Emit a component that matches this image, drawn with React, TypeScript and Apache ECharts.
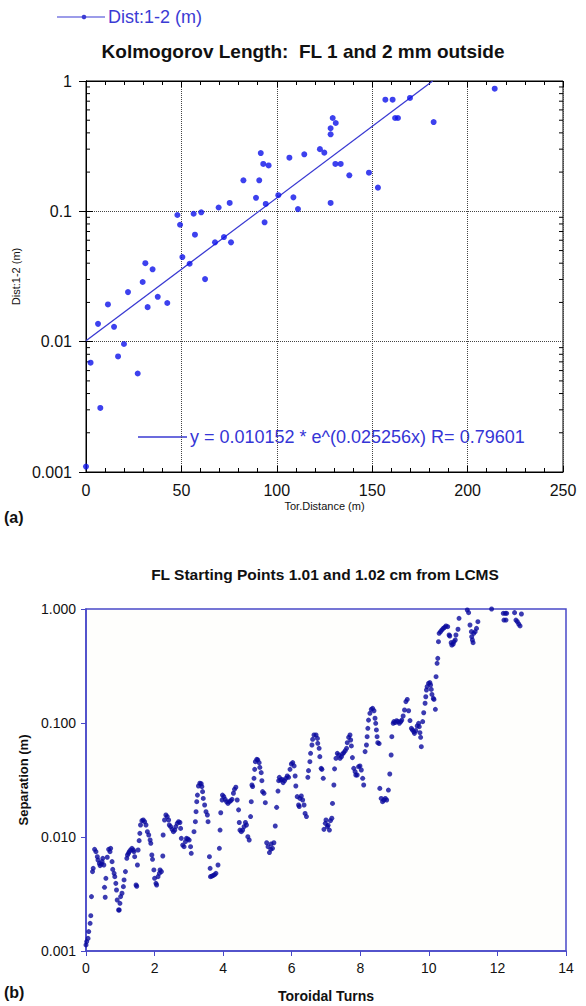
import React, { useEffect, useRef } from "react";
import * as echarts from "echarts";

const SANS = '"Liberation Sans", Arial, Helvetica, sans-serif';

// ---------- Chart (a) ----------
const titleA = "Kolmogorov Length:  FL 1 and 2 mm outside";
const seriesNameA = "Dist:1-2 (m)";
const xNameA = "Tor.Distance (m)";
const yTickLabelsA = ["0.001", "0.01", "0.1", "1"];
const logMinorTicks = [
  0.002, 0.003, 0.004, 0.005, 0.006, 0.007, 0.008, 0.009,
  0.02, 0.03, 0.04, 0.05, 0.06, 0.07, 0.08, 0.09,
  0.2, 0.3, 0.4, 0.5, 0.6, 0.7, 0.8, 0.9,
];
const kolmogorovPoints: [number, number][] = [
  [0, 0.0011], [2.4, 0.0069], [6.3, 0.0137], [7.5, 0.0031], [11.5, 0.0193],
  [14.7, 0.013], [16.8, 0.0077], [19.9, 0.0096], [22, 0.024], [27.1, 0.0057],
  [29.7, 0.0287], [31.1, 0.04], [32.3, 0.0184], [34.9, 0.0359], [37.6, 0.0221],
  [42.6, 0.0198], [47.9, 0.0937], [49.3, 0.0789], [50.5, 0.0446], [54.3, 0.0396],
  [56.4, 0.0958], [57.1, 0.0662], [60.4, 0.0983], [62.4, 0.0302], [67.6, 0.0578],
  [69.5, 0.107], [72.3, 0.0635], [75.3, 0.116], [76, 0.0578], [82.5, 0.173],
  [89.1, 0.127], [90.8, 0.173], [91.6, 0.28], [92.9, 0.231], [93.6, 0.0824],
  [94.2, 0.114], [95.7, 0.225], [100.8, 0.133], [106.6, 0.258], [108.7, 0.128],
  [111.1, 0.104], [114.4, 0.274], [122.6, 0.3], [124.9, 0.282], [128.2, 0.434],
  [128.2, 0.39], [128.2, 0.116], [129.3, 0.52], [130.7, 0.231], [130.9, 0.476],
  [133.5, 0.231], [138, 0.189], [148.3, 0.198], [153, 0.152], [156.9, 0.719],
  [160.7, 0.719], [162, 0.52], [163.5, 0.52], [169.8, 0.741], [182.2, 0.484],
  [214.2, 0.873],
];
const fitA = 0.010152;
const fitB = 0.025256;
const fitR = 0.79601;
const fitXEnd = 181.7;

// ---------- Chart (b) ----------
const titleB = "FL Starting Points 1.01 and 1.02 cm from LCMS";
const xNameB = "Toroidal Turns";
const yNameB = "Separation (m)";
const yTickLabelsB = ["0.001", "0.010", "0.100", "1.000"];
const separationPoints: [number, number][] = [
  [0.0, 0.00113], [0.02, 0.00121], [0.06, 0.00129], [0.08, 0.00148], [0.12, 0.00175],
  [0.14, 0.00204], [0.16, 0.003], [0.19, 0.00497], [0.21, 0.00531], [0.25, 0.0078],
  [0.29, 0.00743], [0.33, 0.00672], [0.35, 0.00628], [0.39, 0.00587], [0.41, 0.00561],
  [0.45, 0.0058], [0.47, 0.00608], [0.49, 0.0065], [0.52, 0.00568], [0.54, 0.00362],
  [0.56, 0.00296], [0.58, 0.00434], [0.62, 0.00664], [0.66, 0.0078], [0.7, 0.00743],
  [0.72, 0.00796], [0.76, 0.00608], [0.78, 0.0052], [0.82, 0.0048], [0.84, 0.00449],
  [0.87, 0.00392], [0.89, 0.00343], [0.91, 0.0028], [0.95, 0.00229], [0.97, 0.00229],
  [0.99, 0.00262], [1.01, 0.003], [1.05, 0.00321], [1.09, 0.00367], [1.11, 0.0042],
  [1.15, 0.00497], [1.19, 0.0065], [1.21, 0.00695], [1.24, 0.00719], [1.26, 0.00743],
  [1.3, 0.00769], [1.34, 0.00796], [1.38, 0.00769], [1.4, 0.00743], [1.42, 0.00672],
  [1.46, 0.00379], [1.48, 0.0037], [1.5, 0.00568], [1.52, 0.00769], [1.55, 0.00929],
  [1.57, 0.01076], [1.59, 0.01274], [1.63, 0.0139], [1.67, 0.0141], [1.71, 0.01363],
  [1.75, 0.01274], [1.79, 0.01113], [1.83, 0.01042], [1.87, 0.00941], [1.89, 0.0088],
  [1.92, 0.00695], [1.94, 0.00637], [1.98, 0.00514], [2.0, 0.00434], [2.04, 0.00392],
  [2.06, 0.00379], [2.1, 0.00449], [2.14, 0.0048], [2.16, 0.00514], [2.2, 0.00497],
  [2.24, 0.00681], [2.25, 0.01042], [2.29, 0.0141], [2.33, 0.0156], [2.37, 0.0151],
  [2.41, 0.0141], [2.43, 0.01274], [2.47, 0.01233], [2.51, 0.01167], [2.55, 0.01113],
  [2.59, 0.0115], [2.62, 0.01233], [2.66, 0.01318], [2.7, 0.01363], [2.74, 0.0134],
  [2.76, 0.0119], [2.78, 0.00973], [2.82, 0.0085], [2.86, 0.00822], [2.9, 0.0091],
  [2.93, 0.00973], [2.97, 0.0096], [3.01, 0.0094], [3.05, 0.00822], [3.07, 0.00719],
  [3.15, 0.01113], [3.19, 0.01363], [3.21, 0.01668], [3.23, 0.0204], [3.25, 0.0233],
  [3.28, 0.028], [3.32, 0.0296], [3.36, 0.0293], [3.38, 0.0277], [3.4, 0.025],
  [3.42, 0.0218], [3.46, 0.0191], [3.5, 0.01668], [3.54, 0.0156], [3.56, 0.01363],
  [3.6, 0.00672], [3.62, 0.00531], [3.63, 0.00449], [3.67, 0.00453], [3.71, 0.0046],
  [3.75, 0.00467], [3.79, 0.0048], [3.85, 0.00568], [3.89, 0.00796], [3.91, 0.0115],
  [3.93, 0.01633], [3.97, 0.0211], [3.98, 0.0233], [4.02, 0.0226], [4.06, 0.0214],
  [4.1, 0.0204], [4.14, 0.0197], [4.18, 0.0204], [4.22, 0.0208], [4.26, 0.0214],
  [4.3, 0.0242], [4.33, 0.0262], [4.37, 0.0273], [4.41, 0.0211], [4.45, 0.0173],
  [4.47, 0.0134], [4.49, 0.0115], [4.53, 0.01113], [4.57, 0.0115], [4.61, 0.01233],
  [4.65, 0.0134], [4.68, 0.01274], [4.72, 0.01007], [4.76, 0.00941], [4.8, 0.0151],
  [4.82, 0.0204], [4.84, 0.0286],
  [4.86, 0.0277], [4.9, 0.0327], [4.92, 0.0392], [4.94, 0.0458], [4.98, 0.048],
  [5.01, 0.0475], [5.05, 0.0449], [5.07, 0.0408], [5.11, 0.0367], [5.13, 0.0312],
  [5.15, 0.025], [5.19, 0.0242], [5.23, 0.02], [5.27, 0.0089], [5.31, 0.00822],
  [5.35, 0.0073], [5.39, 0.0078], [5.4, 0.00868], [5.44, 0.00796], [5.48, 0.0089],
  [5.52, 0.01248], [5.56, 0.0182], [5.6, 0.0253], [5.62, 0.0312], [5.64, 0.0334],
  [5.68, 0.0316], [5.72, 0.032], [5.75, 0.03], [5.79, 0.0312], [5.83, 0.0327],
  [5.87, 0.0343], [5.91, 0.0334], [5.95, 0.0392], [5.99, 0.0437], [6.03, 0.0449],
  [6.07, 0.042], [6.1, 0.0343], [6.12, 0.028], [6.16, 0.0226], [6.2, 0.0191],
  [6.22, 0.0185], [6.24, 0.0218], [6.28, 0.0229], [6.32, 0.0211], [6.36, 0.0191],
  [6.39, 0.0161], [6.43, 0.0151], [6.47, 0.0334], [6.49, 0.0382], [6.53, 0.0458],
  [6.55, 0.0542], [6.59, 0.0641], [6.61, 0.0719], [6.65, 0.0785], [6.71, 0.0785],
  [6.75, 0.0733], [6.76, 0.0663], [6.8, 0.06], [6.82, 0.0507], [6.86, 0.04],
  [6.88, 0.0392], [6.92, 0.0327], [6.94, 0.01167], [6.98, 0.01318], [7.0, 0.0141],
  [7.04, 0.01233], [7.06, 0.0127], [7.1, 0.0115], [7.13, 0.0139], [7.17, 0.0146],
  [7.19, 0.0197], [7.23, 0.0286], [7.25, 0.0396], [7.29, 0.049], [7.33, 0.0542],
  [7.37, 0.0524], [7.41, 0.049], [7.45, 0.0507], [7.48, 0.0535], [7.52, 0.055],
  [7.56, 0.0572], [7.6, 0.06], [7.62, 0.0672], [7.66, 0.0749], [7.7, 0.0785],
  [7.72, 0.0709], [7.74, 0.0629], [7.77, 0.0497], [7.81, 0.04], [7.85, 0.0374],
  [7.87, 0.035], [7.91, 0.035], [7.95, 0.0414], [7.99, 0.042], [8.03, 0.0387],
  [8.07, 0.0327], [8.1, 0.0286], [8.14, 0.0561], [8.18, 0.0641], [8.2, 0.0759],
  [8.22, 0.0898], [8.24, 0.106], [8.28, 0.1216], [8.32, 0.1318], [8.36, 0.1345],
  [8.4, 0.128], [8.43, 0.11], [8.45, 0.0993], [8.47, 0.0869], [8.49, 0.0759],
  [8.51, 0.0672], [8.55, 0.066], [8.57, 0.0267], [8.61, 0.0218], [8.65, 0.0204],
  [8.69, 0.0211], [8.73, 0.0218], [8.77, 0.0211], [8.82, 0.0258], [8.86, 0.0357],
  [8.9, 0.0524], [8.92, 0.0759], [8.96, 0.0993], [8.98, 0.1028], [9.02, 0.101],
  [9.06, 0.1048], [9.1, 0.1028], [9.14, 0.0993], [9.18, 0.1028], [9.21, 0.106],
  [9.25, 0.1152], [9.29, 0.13], [9.33, 0.154], [9.37, 0.161],
  [9.41, 0.128], [9.45, 0.105], [9.49, 0.0898], [9.52, 0.0869], [9.56, 0.0839],
  [9.58, 0.0811], [9.62, 0.0857], [9.66, 0.0941], [9.7, 0.0993], [9.72, 0.0929],
  [9.74, 0.0822], [9.76, 0.0749], [9.78, 0.062], [9.82, 0.1028], [9.85, 0.123],
  [9.89, 0.149], [9.91, 0.17], [9.93, 0.1946], [9.95, 0.2084], [9.99, 0.223],
  [10.03, 0.226], [10.05, 0.2155], [10.07, 0.197], [10.09, 0.178], [10.13, 0.1644],
  [10.15, 0.161], [10.19, 0.1318], [10.21, 0.255], [10.24, 0.334], [10.26, 0.369],
  [10.28, 0.517], [10.3, 0.612], [10.34, 0.633], [10.38, 0.655], [10.42, 0.676],
  [10.46, 0.69], [10.5, 0.71], [10.55, 0.7], [10.59, 0.591], [10.61, 0.58],
  [10.65, 0.507], [10.67, 0.483], [10.71, 0.493], [10.73, 0.517], [10.77, 0.535],
  [10.79, 0.591], [10.85, 0.664], [10.88, 0.828], [11.12, 0.98], [11.16, 0.929],
  [11.2, 0.724], [11.24, 0.633], [11.25, 0.572], [11.27, 0.535], [11.29, 0.507],
  [11.31, 0.612], [11.35, 0.633], [11.39, 0.676], [11.43, 0.774], [11.83, 1.0],
  [12.17, 0.916], [12.19, 0.8], [12.23, 0.916], [12.25, 0.8], [12.27, 0.916],
  [12.5, 0.929], [12.54, 0.8], [12.58, 0.774], [12.62, 0.739], [12.66, 0.71],
  [12.7, 0.904],
];

const LEGEND_BLUE = "#3b3bd4";
const FRAME_BLUE = "#4848c8";

export default function App() {
  const ref = useRef<HTMLDivElement>(null);

  useEffect(() => {
    if (!ref.current) return;
    const chart = echarts.init(ref.current, null, { renderer: "svg" });
    const logIdx = (v: number) => Math.round(Math.log10(v)) + 3;

    const fitLine: [number, number][] = [
      [0, fitA],
      [fitXEnd, fitA * Math.exp(fitB * fitXEnd)],
    ];
    const fitText = `y = ${fitA} * e^(${fitB}x) R= ${fitR}`;

    const option: any = {
      animation: false,
      backgroundColor: "#ffffff",
      grid: [
        { left: 86, top: 81, width: 477, height: 391, show: true, borderColor: "#000", borderWidth: 1, backgroundColor: "#fff" },
        { left: 86, top: 609, width: 480, height: 342, show: true, borderColor: FRAME_BLUE, borderWidth: 1.5, backgroundColor: "#fefefc" },
      ],
      xAxis: [
        {
          gridIndex: 0, type: "value", position: "bottom", min: 0, max: 250, interval: 50,
          axisLine: { show: true, lineStyle: { color: "#000", width: 1 } },
          axisTick: { show: true, inside: true, length: 6, lineStyle: { color: "#000" } },
          minorTick: { show: true, splitNumber: 5, length: 4, lineStyle: { color: "#000" } },
          axisLabel: { fontFamily: SANS, fontSize: 16, color: "#111", margin: 10 },
          splitLine: { show: true, lineStyle: { color: "#444", type: [1, 1], width: 1 } },
          name: xNameA, nameLocation: "middle", nameGap: 28,
          nameTextStyle: { fontFamily: SANS, fontSize: 11, color: "#111" },
        },
        {
          gridIndex: 0, type: "value", position: "top", min: 0, max: 250, interval: 50,
          axisLine: { show: true, lineStyle: { color: "#000", width: 1 } },
          axisTick: { show: true, inside: true, length: 6, lineStyle: { color: "#000" } },
          minorTick: { show: true, splitNumber: 5, length: 4, lineStyle: { color: "#000" } },
          axisLabel: { show: false },
          splitLine: { show: false },
        },
        {
          gridIndex: 1, type: "value", position: "bottom", min: 0, max: 14, interval: 2,
          axisLine: { show: true, lineStyle: { color: FRAME_BLUE, width: 1.5 } },
          axisTick: { show: true, inside: false, length: 5, lineStyle: { color: FRAME_BLUE } },
          axisLabel: { fontFamily: SANS, fontSize: 14, color: "#111", margin: 10 },
          splitLine: { show: false },
          name: xNameB, nameLocation: "middle", nameGap: 38,
          nameTextStyle: { fontFamily: SANS, fontSize: 14, fontWeight: "bold", color: "#111" },
        },
      ],
      yAxis: [
        {
          gridIndex: 0, type: "log", logBase: 10, min: 0.001, max: 1, splitNumber: 3, position: "left",
          axisLine: { show: true, lineStyle: { color: "#000", width: 1 } },
          axisTick: { show: true, inside: true, length: 7, lineStyle: { color: "#000" } },
          axisLabel: {
            fontFamily: SANS, fontSize: 16, color: "#111", margin: 14,
            formatter: (v: number) => yTickLabelsA[logIdx(v)] ?? "",
          },
          splitLine: { show: true, lineStyle: { color: "#444", type: [1, 1], width: 1 } },
          name: seriesNameA, nameLocation: "middle", nameGap: 62,
          nameTextStyle: { fontFamily: SANS, fontSize: 11, color: "#111" },
        },
        {
          gridIndex: 0, type: "log", logBase: 10, min: 0.001, max: 1, splitNumber: 3, position: "right",
          axisLine: { show: true, lineStyle: { color: "#000", width: 1 } },
          axisTick: { show: true, inside: true, length: 7, lineStyle: { color: "#000" } },
          axisLabel: { show: false },
          splitLine: { show: false },
        },
        {
          gridIndex: 1, type: "log", logBase: 10, min: 0.001, max: 1, splitNumber: 3, position: "left",
          axisLine: { show: true, lineStyle: { color: FRAME_BLUE, width: 1.5 } },
          axisTick: { show: true, inside: false, length: 5, lineStyle: { color: FRAME_BLUE } },
          axisLabel: {
            fontFamily: SANS, fontSize: 14, color: "#111", margin: 10,
            formatter: (v: number) => yTickLabelsB[logIdx(v)] ?? "",
          },
          splitLine: { show: false },
          name: yNameB, nameLocation: "middle", nameGap: 50,
          nameTextStyle: { fontFamily: SANS, fontSize: 13, fontWeight: "bold", color: "#111" },
        },
      ],
      series: [
        {
          type: "custom", xAxisIndex: 0, yAxisIndex: 0, silent: true, clip: false,
          data: logMinorTicks.map((v) => [0, v]),
          renderItem: (_p: any, api: any) => {
            const v = api.value(1);
            const l = api.coord([0, v]);
            const r = api.coord([250, v]);
            return {
              type: "group",
              children: [
                { type: "line", shape: { x1: l[0], y1: l[1], x2: l[0] + 4, y2: l[1] }, style: { stroke: "#000", lineWidth: 1 } },
                { type: "line", shape: { x1: r[0] - 4, y1: r[1], x2: r[0], y2: r[1] }, style: { stroke: "#000", lineWidth: 1 } },
              ],
            };
          },
        },
        {
          type: "line", name: "fit", xAxisIndex: 0, yAxisIndex: 0, data: fitLine,
          symbol: "none", lineStyle: { color: "#3a3ad2", width: 1.3 }, z: 3,
        },
        {
          type: "scatter", name: seriesNameA, xAxisIndex: 0, yAxisIndex: 0, data: kolmogorovPoints,
          symbol: "circle", symbolSize: 6, itemStyle: { color: "#0c12ea" }, z: 4,
        },
        {
          type: "scatter", name: "separation", xAxisIndex: 2, yAxisIndex: 2, data: separationPoints,
          symbol: "circle", symbolSize: 5, itemStyle: { color: "#0a0a9e" }, z: 4,
        },
      ],
      graphic: [
        { type: "line", shape: { x1: 57, y1: 17, x2: 105, y2: 17 }, style: { stroke: LEGEND_BLUE, lineWidth: 1.2 } },
        { type: "circle", shape: { cx: 84, cy: 17, r: 2.3 }, style: { fill: LEGEND_BLUE } },
        { type: "text", x: 108, y: 17, style: { text: seriesNameA, fill: LEGEND_BLUE, fontFamily: SANS, fontSize: 18, verticalAlign: "middle", align: "left" } },
        { type: "text", x: 303, y: 51, style: { text: titleA, fill: "#111", fontFamily: SANS, fontWeight: "bold", fontSize: 19, verticalAlign: "middle", align: "center" } },
        { type: "line", shape: { x1: 138, y1: 437, x2: 187, y2: 437 }, style: { stroke: "#3a3ad2", lineWidth: 1.3 } },
        { type: "text", x: 190, y: 437, style: { text: fitText, fill: "#3535d6", fontFamily: SANS, fontSize: 18, verticalAlign: "middle", align: "left" } },
        { type: "text", x: 4, y: 517, style: { text: "(a)", fill: "#111", fontFamily: SANS, fontWeight: "bold", fontSize: 16, verticalAlign: "middle", align: "left" } },
        { type: "text", x: 325, y: 574, style: { text: titleB, fill: "#111", fontFamily: SANS, fontWeight: "bold", fontSize: 15.5, verticalAlign: "middle", align: "center" } },
        { type: "text", x: 4, y: 992, style: { text: "(b)", fill: "#111", fontFamily: SANS, fontWeight: "bold", fontSize: 16, verticalAlign: "middle", align: "left" } },
      ],
    };
    chart.setOption(option);
    return () => chart.dispose();
  }, []);

  return (
    <div
      ref={ref}
      style={{ position: "absolute", left: 0, top: 0, width: 586, height: 1006, background: "#fff" }}
    />
  );
}
